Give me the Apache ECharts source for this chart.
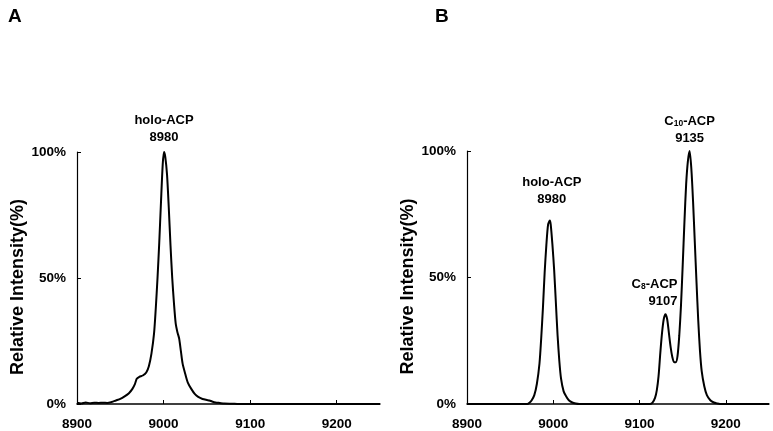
<!DOCTYPE html>
<html>
<head>
<meta charset="utf-8">
<script src="https://cdn.jsdelivr.net/npm/echarts@6/dist/echarts.min.js"></script>
<style>
html,body{margin:0;padding:0;background:#fff;}
#c{width:773px;height:431px;}
</style>
</head>
<body>
<div id="c"></div>
<script>
// ---- data ----
const panelTitles = ['A', 'B'];
const xTicks = [8900, 9000, 9100, 9200];
const yTicks = ['0%', '50%', '100%'];
const yAxisName = 'Relative Intensity(%)';

// Panel A: holo-ACP only
const massA = [8900, 8905, 8910, 8915, 8920, 8925, 8930, 8935, 8940, 8945, 8950, 8955, 8960, 8964, 8967, 8969, 8972, 8976, 8980, 8983, 8986, 8989, 8991, 8993, 8995, 8997, 8999, 9000.5, 9002, 9004, 9006, 9008, 9010, 9012, 9014, 9016, 9018, 9020, 9022, 9025, 9028, 9032, 9036, 9040, 9045, 9050, 9053, 9056, 9060, 9065, 9070, 9080, 9085, 9250];
const intensityA = [0.5, 0.2, 0.6, 0.3, 0.5, 0.4, 0.5, 0.4, 0.8, 1.4, 2.0, 3.0, 4.3, 6.0, 8.0, 10.0, 10.8, 11.3, 12.5, 15, 20, 28, 38, 50, 64, 80, 95, 100, 98, 91, 78, 63, 50, 40, 32, 28.5, 26, 21, 16, 12, 8.5, 6, 4, 2.8, 2.0, 1.6, 1.4, 1.0, 0.6, 0.4, 0.2, 0.1, 0, 0];

// Panel B: holo-ACP, C8-ACP, C10-ACP
const massB = [8900, 8970, 8972, 8975, 8978, 8981, 8984, 8986, 8988, 8990, 8992, 8994, 8996, 8997, 8999, 9001, 9003, 9005, 9007, 9009, 9012, 9015, 9018, 9022, 9026, 9030, 9112, 9115, 9118, 9120, 9122, 9124, 9126, 9128, 9130, 9132, 9134, 9136, 9138, 9140, 9142, 9144, 9146, 9148, 9150, 9152, 9154, 9156, 9158, 9160, 9162, 9164, 9166, 9168, 9170, 9172, 9175, 9178, 9182, 9186, 9190, 9193, 9250];
const intensityB = [0, 0, 0.4, 1.5, 3.5, 8, 16, 26, 38, 52, 63, 71, 72.5, 71, 63, 53, 40, 27, 17, 10, 5, 3, 1.5, 0.6, 0.2, 0, 0, 0.5, 2.5, 5.5, 11, 20, 28, 33.5, 35.5, 33.5, 28, 22.5, 18.5, 16.5, 16.5, 19, 27, 39, 55, 72, 87, 96, 100, 93, 80, 64, 48, 33, 21, 13, 7, 3.5, 1.5, 0.6, 0.2, 0, 0];

// Peak annotations: [species, labelled mass, peak x, peak y]
const peaksA = [['holo-ACP', '8980', 9000.5, 100]];
const peaksB = [['holo-ACP', '8980', 8996, 72.5], ['C{sub|8}-ACP', '9107', 9130, 35.5], ['C{sub|10}-ACP', '9135', 9158, 100]];

// ---- chart ----
const FONT = '"Liberation Sans", Arial, sans-serif';
const pairs = (xs, ys) => xs.map((x, i) => [x, ys[i]]);

function xAxisCfg(gi) {
  return {
    type: 'value', gridIndex: gi, min: 8900, max: 9250, interval: 100,
    axisLine: { show: true, lineStyle: { color: '#000', width: 1.5 } },
    axisTick: { show: true, inside: true, length: 4, lineStyle: { color: '#000' } },
    splitLine: { show: false },
    axisLabel: {
      margin: 13, color: '#000', fontFamily: FONT, fontWeight: 'bold', fontSize: 13.5,
      formatter: v => (xTicks.indexOf(v) >= 0 ? String(v) : ''), showMaxLabel: false
    }
  };
}
function yAxisCfg(gi) {
  return {
    type: 'value', gridIndex: gi, min: 0, max: 100, interval: 50,
    name: yAxisName, nameLocation: 'middle', nameGap: 50,
    nameTextStyle: { color: '#000', fontFamily: FONT, fontWeight: 'bold', fontSize: 18, padding: [0, 18, 0, 0] },
    axisLine: { show: true, lineStyle: { color: '#000', width: 1.2 } },
    axisTick: { show: true, inside: true, length: 4, lineStyle: { color: '#000' } },
    splitLine: { show: false },
    axisLabel: {
      margin: 11, color: '#000', fontFamily: FONT, fontWeight: 'bold', fontSize: 13.5,
      formatter: v => yTicks[v / 50]
    }
  };
}
const rich = {
  t: { fontFamily: FONT, fontWeight: 'bold', fontSize: 13, color: '#000', lineHeight: 17 },
  sub: { fontFamily: FONT, fontWeight: 'bold', fontSize: 8.5, color: '#000', lineHeight: 17, padding: [5, 0, 0, 0] }
};
function labelText(sp) {
  return sp.split(/(\{sub\|[^}]*\})/).filter(s => s).map(s => s.startsWith('{sub|') ? s : '{t|' + s + '}').join('');
}
const labelStyles = {
  'holo-ACP_A': { distance: 6, offset: [0, 0], align: 'center' },
  'holo-ACP_B': { distance: 12, offset: [2, 0], align: 'center' },
  'C{sub|8}-ACP_B': { distance: 4, offset: [12, 0], align: 'right' },
  'C{sub|10}-ACP_B': { distance: 4, offset: [0, 0], align: 'center' }
};
function markPoints(peaks, panel) {
  return {
    symbol: 'circle', symbolSize: 1, silent: true, animation: false,
    itemStyle: { color: 'rgba(0,0,0,0)' },
    data: peaks.map(p => {
      const st = labelStyles[p[0] + '_' + panel];
      return {
        coord: [p[2], p[3]],
        label: {
          show: true, position: 'top', distance: st.distance, offset: st.offset, align: st.align,
          formatter: labelText(p[0]) + '\n{t|' + p[1] + '}', rich: rich
        }
      };
    })
  };
}
function lineSeries(gi, data, peaks, panel) {
  return {
    type: 'line', xAxisIndex: gi, yAxisIndex: gi, data: data,
    showSymbol: false, symbol: 'none', smooth: 0.25, animation: false,
    lineStyle: { color: '#000', width: 2 },
    markPoint: markPoints(peaks, panel)
  };
}

const chart = echarts.init(document.getElementById('c'), null, { renderer: 'canvas' });
chart.setOption({
  backgroundColor: '#fff',
  animation: false,
  title: [
    { text: panelTitles[0], left: 3, top: 2, textStyle: { fontFamily: FONT, fontWeight: 'bold', fontSize: 19, color: '#000' } },
    { text: panelTitles[1], left: 430, top: 2, textStyle: { fontFamily: FONT, fontWeight: 'bold', fontSize: 19, color: '#000' } }
  ],
  grid: [
    { left: 77, top: 152, width: 303, height: 252 },
    { left: 467, top: 151, width: 302, height: 253 }
  ],
  xAxis: [xAxisCfg(0), xAxisCfg(1)],
  yAxis: [yAxisCfg(0), yAxisCfg(1)],
  series: [
    lineSeries(0, pairs(massA, intensityA), peaksA, 'A'),
    lineSeries(1, pairs(massB, intensityB), peaksB, 'B')
  ]
});
</script>
</body>
</html>
